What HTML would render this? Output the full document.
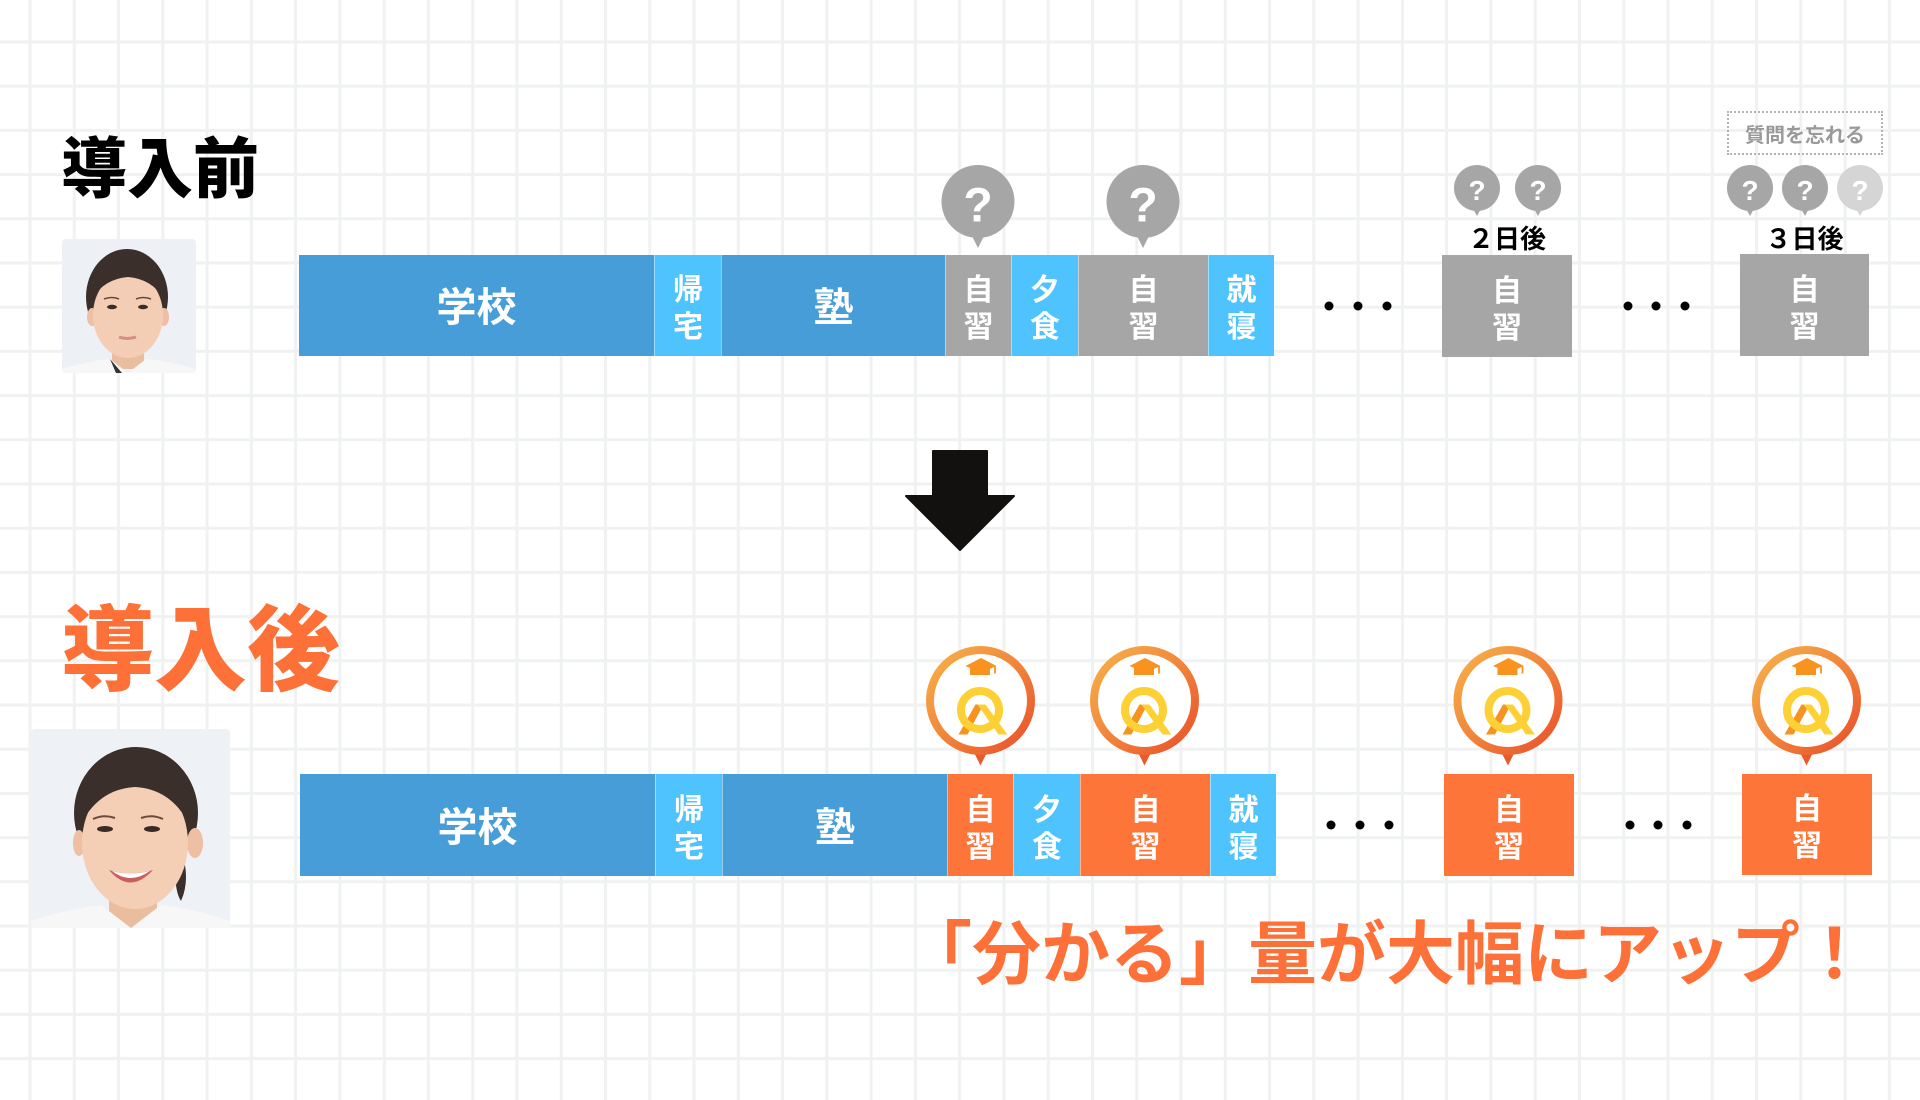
<!DOCTYPE html>
<html><head><meta charset="utf-8">
<style>
*{margin:0;padding:0;box-sizing:border-box}
html,body{width:1920px;height:1100px;overflow:hidden;background:#fff}
body{position:relative;font-family:"Liberation Sans","Noto Sans CJK JP",sans-serif}
.abs{position:absolute}
.seg{position:absolute;display:flex;align-items:center;justify-content:center;color:#fff;font-weight:700;font-family:"Liberation Sans","Noto Sans CJK JP",sans-serif}
.h{font-size:40px;line-height:40px;padding-top:5px}
.v{font-size:30px;line-height:37px;text-align:center;padding-top:7px}
.sep{border-left:1px solid rgba(255,255,255,0.45)}
.blue{background:#469dd7}
.lb{background:#4fc3fd}
.gray{background:#a6a6a6}
.org{background:#fd7539}
.title{position:absolute;font-weight:900;line-height:1;white-space:nowrap;font-family:"Liberation Sans","Noto Sans CJK JP",sans-serif}
</style></head><body>

<svg class="abs" style="left:0;top:0" width="1920" height="1100">
  <defs>
    <pattern id="grid" patternUnits="userSpaceOnUse" x="28.5" y="40.5" width="44.27" height="44.2">
      <rect x="0" y="0" width="3" height="44.2" fill="#f0f2f2"/>
      <rect x="0" y="0" width="44.27" height="3" fill="#f0f2f2"/>
    </pattern>
  </defs>
  <rect width="1920" height="1100" fill="url(#grid)"/>
</svg>

<!-- titles -->
<div class="title" style="left:61px;top:136px;font-size:66px;color:#000">導入前</div>
<div class="title" style="left:61px;top:605px;font-size:93px;color:#fd7139">導入後</div>

<!-- photo 1 -->
<svg class="abs" style="left:62px;top:239px;border-radius:4px" width="134" height="134" viewBox="0 0 134 134">
  <rect width="134" height="134" fill="#edf0f5"/>
  <ellipse cx="65" cy="58" rx="41" ry="48" fill="#3a2f2a"/>
  <ellipse cx="30" cy="78" rx="5" ry="9" fill="#eebfa2"/>
  <ellipse cx="102" cy="78" rx="5" ry="9" fill="#eebfa2"/>
  <rect x="50" y="100" width="32" height="30" fill="#ebbd9f"/>
  <ellipse cx="66" cy="76" rx="35" ry="43" fill="#f3ceb4"/>
  <path d="M30,60 Q40,28 66,26 Q92,28 102,60 Q90,40 66,38 Q42,40 30,60Z" fill="#3a2f2a"/>
  <path d="M0,134 L0,130 Q25,122 48,120 L66,134 L84,120 Q108,122 134,130 L134,134Z" fill="#f7f7f7"/>
  <path d="M48,120 L60,134 L54,134 Z" fill="#333"/>
  <ellipse cx="50" cy="68" rx="5" ry="2.2" fill="#3b2b26"/>
  <ellipse cx="81" cy="68" rx="5" ry="2.2" fill="#3b2b26"/>
  <path d="M42,60 Q50,57 57,60" stroke="#6b4a3c" stroke-width="1.5" fill="none"/>
  <path d="M74,60 Q81,57 89,60" stroke="#6b4a3c" stroke-width="1.5" fill="none"/>
  <path d="M57,98 Q65,101 74,98" stroke="#d98a86" stroke-width="3" fill="none"/>
</svg>

<!-- photo 2 -->
<svg class="abs" style="left:31px;top:729px;border-radius:4px" width="199" height="199" viewBox="0 0 199 199">
  <rect width="199" height="199" fill="#eef1f6"/>
  <path d="M150,120 Q160,150 150,172 Q142,160 145,125Z" fill="#3a2f2a"/>
  <ellipse cx="105" cy="84" rx="62" ry="66" fill="#3a2f2a"/>
  <ellipse cx="164" cy="114" rx="8" ry="15" fill="#eebfa2"/>
  <ellipse cx="48" cy="114" rx="6" ry="13" fill="#eebfa2"/>
  <rect x="78" y="160" width="48" height="39" fill="#ebbd9f"/>
  <ellipse cx="104" cy="114" rx="53" ry="66" fill="#f4cfb5"/>
  <path d="M50,95 Q58,45 104,42 Q152,45 158,95 Q140,60 104,58 Q68,60 50,95Z" fill="#3a2f2a"/>
  <path d="M0,199 L0,192 Q35,180 70,176 L100,199 L130,176 Q165,180 199,192 L199,199Z" fill="#f7f7f7"/>
  <ellipse cx="74" cy="100" rx="8" ry="3" fill="#3b2b26"/>
  <ellipse cx="121" cy="100" rx="8" ry="3" fill="#3b2b26"/>
  <path d="M62,90 Q73,85 84,89" stroke="#6b4a3c" stroke-width="2" fill="none"/>
  <path d="M110,89 Q121,85 132,90" stroke="#6b4a3c" stroke-width="2" fill="none"/>
  <path d="M78,141 Q99,166 122,141 Q99,148 78,141Z" fill="#c9605e"/>
  <path d="M81,142 Q99,156 119,142 Q99,147 81,142Z" fill="#ffffff"/>
</svg>

<!-- top bar -->
<div class="seg blue h" style="left:299px;top:255px;width:355px;height:101px">学校</div>
<div class="seg lb v sep" style="left:654px;top:255px;width:67px;height:101px">帰<br>宅</div>
<div class="seg blue h sep" style="left:721px;top:255px;width:224px;height:101px">塾</div>
<div class="seg gray v sep" style="left:945px;top:255px;width:66px;height:101px">自<br>習</div>
<div class="seg lb v sep" style="left:1011px;top:255px;width:67px;height:101px">夕<br>食</div>
<div class="seg gray v sep" style="left:1078px;top:255px;width:130px;height:101px">自<br>習</div>
<div class="seg lb v sep" style="left:1208px;top:255px;width:66px;height:101px">就<br>寝</div>
<div class="seg gray v" style="left:1442px;top:255px;width:130px;height:102px">自<br>習</div>
<div class="seg gray v" style="left:1740px;top:254px;width:129px;height:102px">自<br>習</div>

<!-- bottom bar -->
<div class="seg blue h" style="left:300px;top:774px;width:355px;height:102px">学校</div>
<div class="seg lb v sep" style="left:655px;top:774px;width:67px;height:102px">帰<br>宅</div>
<div class="seg blue h sep" style="left:722px;top:774px;width:225px;height:102px">塾</div>
<div class="seg org v sep" style="left:947px;top:774px;width:66px;height:102px">自<br>習</div>
<div class="seg lb v sep" style="left:1013px;top:774px;width:67px;height:102px">夕<br>食</div>
<div class="seg org v sep" style="left:1080px;top:774px;width:130px;height:102px">自<br>習</div>
<div class="seg lb v sep" style="left:1210px;top:774px;width:66px;height:102px">就<br>寝</div>
<div class="seg org v" style="left:1444px;top:774px;width:130px;height:102px">自<br>習</div>
<div class="seg org v" style="left:1742px;top:774px;width:130px;height:101px">自<br>習</div>

<!-- day labels -->
<div class="abs" style="left:1442px;top:226px;width:130px;text-align:center;font-size:26px;line-height:26px;font-weight:700;color:#000">２日後</div>
<div class="abs" style="left:1740px;top:226px;width:129px;text-align:center;font-size:26px;line-height:26px;font-weight:700;color:#000">３日後</div>

<!-- forget box -->
<div class="abs" style="left:1727px;top:111px;width:156px;height:44px;border:2px dotted #b3b3b3;display:flex;align-items:center;justify-content:center;font-size:20px;font-weight:700;color:#999;padding-top:1px">質問を忘れる</div>

<!-- shapes overlay -->
<svg class="abs" style="left:0;top:0" width="1920" height="1100">
  <defs>
    <linearGradient id="ring" x1="0" y1="0" x2="1" y2="1">
      <stop offset="0" stop-color="#f7b24a"/>
      <stop offset="0.55" stop-color="#f0803a"/>
      <stop offset="1" stop-color="#e94e2a"/>
    </linearGradient>
    <symbol id="badge" viewBox="0 0 110 122" width="110" height="122">
      <path d="M45,100 L65,100 L55,120 Z" fill="#ea5a2b"/>
      <circle cx="55" cy="55" r="50.5" fill="#fff" stroke="url(#ring)" stroke-width="8"/>
      <path d="M44.5,22 L64.5,22 L64.5,29.5 L44.5,29.5Z" fill="#f7931e"/>
      <path d="M55.5,12.5 L71,20.5 L55.5,27 L40,20.5 Z" fill="#f7931e"/>
      <path d="M69.5,21 L69.5,28" stroke="#f7931e" stroke-width="1.8"/>
      <polygon points="50,59 58,59 42,89 33,89" fill="#f7931e"/>
      <circle cx="54.5" cy="64.5" r="19" fill="none" stroke="#fdd036" stroke-width="8"/>
      <polygon points="52,59 60,59 82,89 73,89" fill="#fdd036"/>
    </symbol>
  </defs>

  <!-- question bubbles -->
  <g fill="#a6a6a6">
    <circle cx="978" cy="201.5" r="36.5"/>
    <path d="M970,232 L986,232 L978,248 Z"/>
    <circle cx="1143" cy="201.5" r="36.5"/>
    <path d="M1135,232 L1151,232 L1143,248 Z"/>
    <circle cx="1477" cy="188" r="23"/>
    <path d="M1471,205 L1483,205 L1477,216 Z"/>
    <circle cx="1538" cy="188" r="23"/>
    <path d="M1532,205 L1544,205 L1538,216 Z"/>
    <circle cx="1750" cy="188" r="23"/>
    <path d="M1744,205 L1756,205 L1750,216 Z"/>
    <circle cx="1805" cy="188" r="23"/>
    <path d="M1799,205 L1811,205 L1805,216 Z"/>
  </g>
  <g fill="#d5d5d5">
    <circle cx="1860" cy="188" r="23"/>
    <path d="M1854,205 L1866,205 L1860,216 Z"/>
  </g>
  <g fill="#fff" font-family="Liberation Sans, sans-serif" font-weight="700" text-anchor="middle">
    <text x="978" y="221.5" font-size="48">?</text>
    <text x="1143" y="221.5" font-size="48">?</text>
    <text x="1477" y="200" font-size="28">?</text>
    <text x="1538" y="200" font-size="28">?</text>
    <text x="1750" y="200" font-size="28">?</text>
    <text x="1805" y="200" font-size="28">?</text>
    <text x="1860" y="200" font-size="28">?</text>
  </g>

  <!-- dots -->
  <g fill="#000">
    <circle cx="1329" cy="306" r="4.5"/><circle cx="1358" cy="306" r="4.5"/><circle cx="1387" cy="306" r="4.5"/>
    <circle cx="1628" cy="306" r="4.5"/><circle cx="1656" cy="306" r="4.5"/><circle cx="1685" cy="306" r="4.5"/>
    <circle cx="1331" cy="825" r="4.5"/><circle cx="1360" cy="825" r="4.5"/><circle cx="1389" cy="825" r="4.5"/>
    <circle cx="1630" cy="825" r="4.5"/><circle cx="1658" cy="825" r="4.5"/><circle cx="1687" cy="825" r="4.5"/>
  </g>

  <!-- arrow -->
  <polygon points="933,451 987,451 987,496 1014,496 960,550 906,496 933,496" fill="#121110" stroke="#121110" stroke-width="2" stroke-linejoin="round"/>

  <!-- badges -->
  <use href="#badge" x="925.5" y="645.5" width="110" height="122"/>
  <use href="#badge" x="1089.5" y="645.5" width="110" height="122"/>
  <use href="#badge" x="1453" y="645.5" width="110" height="122"/>
  <use href="#badge" x="1751.5" y="645.5" width="110" height="122"/>
</svg>

<!-- bottom message -->
<div class="title" style="left:903px;top:920px;font-size:69px;font-weight:700;color:#fd7139">「分かる」量が大幅にアップ！</div>

</body></html>
